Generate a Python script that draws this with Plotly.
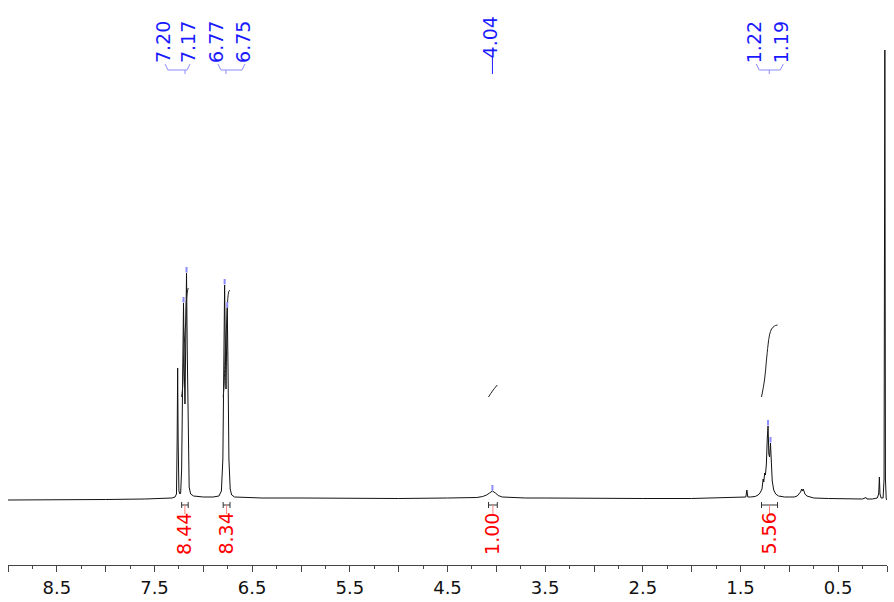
import plotly.graph_objects as go

# ---------------- data ----------------
spec_ppm = [9.00, 8.50, 8.00, 7.60, 7.40, 7.32, 7.29, 7.275, 7.268, 7.263, 7.258, 7.25, 7.24, 7.232,
            7.222, 7.212, 7.203, 7.195, 7.188, 7.180, 7.172, 7.165, 7.155, 7.145, 7.13, 7.10, 7.00,
            6.90, 6.84, 6.815, 6.80, 6.79, 6.782, 6.775, 6.768, 6.762, 6.755, 6.747, 6.738, 6.725,
            6.71, 6.68, 6.50, 6.40, 6.00, 5.50, 5.00, 4.50, 4.20, 4.14, 4.10, 4.07, 4.04, 4.01, 3.98,
            3.94, 3.85, 3.70, 3.50, 3.00, 2.50, 2.00, 1.70, 1.50, 1.445, 1.435, 1.425, 1.40, 1.35,
            1.32, 1.30, 1.28, 1.268, 1.262, 1.252, 1.245, 1.235, 1.226, 1.218, 1.210, 1.202, 1.193,
            1.185, 1.175, 1.16, 1.14, 1.11, 1.05, 1.00, 0.95, 0.92, 0.90, 0.885, 0.874, 0.866, 0.858,
            0.850, 0.84, 0.82, 0.79, 0.75, 0.60, 0.40, 0.25, 0.215, 0.205, 0.15, 0.10, 0.085, 0.078,
            0.072, 0.06, 0.04, 0.03, 0.022, 0.016, 0.008, 0.0]
spec_int = [-1, -1, -0.5, 0, 0.5, 1, 2, 5, 60, 131, 60, 8, 5, 6,
            30, 120, 196, 130, 95, 160, 226, 150, 40, 12, 5, 3, 2,
            2, 3, 8, 40, 150, 214, 150, 110, 150, 191, 130, 40, 10,
            4, 2, 1, 1, 1, 0.5, 0.5, 1, 1.5, 2.5, 4, 6, 8, 6, 3.5,
            2, 1.5, 1, 1, 0.5, 0.5, 0.5, 1, 1.5, 2, 9, 2, 2, 2.5,
            4, 6, 10, 20, 17, 26, 24, 35, 60, 73, 45, 42, 56,
            38, 18, 9, 5, 3, 2, 2, 2, 3, 5, 7, 10, 8, 10,
            8, 5, 3, 2, 1, 0.5, 0, 0, 1.5, 0, 0, 1, 5, 22,
            5, 1, 1, 20, 449, 20, 0, -1]

peak_labels = [7.20, 7.17, 6.77, 6.75, 4.04, 1.22, 1.19]
peak_ppm = [7.203, 7.172, 6.782, 6.755, 4.04, 1.218, 1.193]
peak_height = [196, 226, 214, 191, 8, 73, 56]

integral_values = [8.44, 8.34, 1.00, 5.56]
integral_from = [7.222, 6.797, 4.08, 1.285]
integral_to = [7.155, 6.727, 3.99, 1.121]
integral_curves_ppm = [
    [7.222, 7.212, 7.202, 7.192, 7.182, 7.172, 7.162, 7.155],
    [6.797, 6.787, 6.777, 6.767, 6.757, 6.747, 6.737, 6.727],
    [4.08, 4.04, 3.99],
    [1.285, 1.254, 1.234, 1.218, 1.203, 1.182, 1.152, 1.121],
]
integral_curves_val = [
    [102, 112, 140, 160, 175, 200, 208, 211],
    [102, 115, 145, 165, 185, 203, 208, 209],
    [102, 108, 114],
    [102, 119, 139, 154, 164, 170, 173, 174],
]

tick_vals = [9.0, 8.5, 8.0, 7.5, 7.0, 6.5, 6.0, 5.5, 5.0, 4.5, 4.0, 3.5, 3.0, 2.5, 2.0, 1.5, 1.0, 0.5, 0.0]
tick_text = ["", "8.5", "", "7.5", "", "6.5", "", "5.5", "", "4.5", "", "3.5", "", "2.5", "", "1.5", "", "0.5", ""]

# ---------------- layout helpers ----------------
PX_PER_PPM = 97.6
TOP = 499  # data value at the top edge of the plot area


def py(p):
    """pixel row (from the top of the plot area) -> y data value"""
    return TOP - p


def dx(px):
    """pixel offset -> ppm offset (axis reversed)"""
    return px / PX_PER_PPM


BLUE = "#1a1aff"
BLUE_LIGHT = "#8c8cff"
RED = "#ff0000"
RED_LIGHT = "#ff8080"
FONT = "DejaVu Sans"

fig = go.Figure()
fig.add_trace(go.Scatter(x=spec_ppm, y=spec_int, mode="lines",
                         line=dict(color="#111111", width=1), hoverinfo="skip"))
for xs, ys in zip(integral_curves_ppm, integral_curves_val):
    fig.add_trace(go.Scatter(x=xs, y=ys, mode="lines", line=dict(color="#222222", width=1, shape="spline"),
                             hoverinfo="skip"))

shapes = []
annotations = []

# peak top markers
for p, h in zip(peak_ppm, peak_height):
    shapes.append(dict(type="line", xref="x", yref="y", x0=p, x1=p, y0=h + 0.5, y1=h + 6,
                       line=dict(color=BLUE_LIGHT, width=2)))

# multiplet label groups: (indices of labels, label pixel offsets from group centre)
groups = [([0, 1], [-20, 5]), ([2, 3], [-8, 19]), ([5, 6], [-13, 14])]
for idx, offs in groups:
    centre = sum(peak_ppm[i] for i in idx) / len(idx)
    xs = [centre - dx(o) for o in offs]
    for i, x in zip(idx, xs):
        annotations.append(dict(x=x - dx(-2), y=py(42), xref="x", yref="y", text=f"{peak_labels[i]:.2f}",
                                textangle=-90, showarrow=False, xanchor="center", yanchor="middle",
                                font=dict(family=FONT, size=19, color=BLUE)))
    left, right = xs[0], xs[-1]
    path = (f"M {left},{py(64)} L {left - dx(3)},{py(70)} L {centre},{py(70)} L {centre},{py(74)} "
            f"M {centre},{py(70)} L {right + dx(3)},{py(70)} L {right},{py(64)}")
    shapes.append(dict(type="path", xref="x", yref="y", path=path, line=dict(color=BLUE_LIGHT, width=1)))

# single label 4.04
annotations.append(dict(x=peak_ppm[4] - dx(-2), y=py(37), xref="x", yref="y", text=f"{peak_labels[4]:.2f}",
                        textangle=-90, showarrow=False, xanchor="center", yanchor="middle",
                        font=dict(family=FONT, size=19, color=BLUE)))
shapes.append(dict(type="line", xref="x", yref="y", x0=peak_ppm[4], x1=peak_ppm[4], y0=py(57), y1=py(74),
                   line=dict(color=BLUE, width=1)))

# integral brackets and labels
for v, a, b in zip(integral_values, integral_from, integral_to):
    c = (a + b) / 2
    shapes.append(dict(type="line", xref="x", yref="y", x0=a, x1=b, y0=py(505), y1=py(505),
                       line=dict(color="#333333", width=1)))
    for e in (a, b):
        shapes.append(dict(type="line", xref="x", yref="y", x0=e, x1=e, y0=py(502), y1=py(508),
                           line=dict(color="#333333", width=1)))
    shapes.append(dict(type="line", xref="x", yref="y", x0=c, x1=c, y0=py(505), y1=py(514),
                       line=dict(color=RED_LIGHT, width=1)))
    annotations.append(dict(x=c + dx(1), y=py(534), xref="x", yref="y", text=f"{v:.2f}", textangle=-90,
                            showarrow=False, xanchor="center", yanchor="middle",
                            font=dict(family=FONT, size=19, color=RED)))

fig.update_layout(
    width=894, height=602,
    margin=dict(l=8, r=7, t=0, b=37),
    paper_bgcolor="white", plot_bgcolor="white",
    showlegend=False,
    shapes=shapes, annotations=annotations,
    xaxis=dict(range=[9.0, 0.0], tickmode="array", tickvals=tick_vals, ticktext=tick_text,
               ticks="outside", ticklen=6, tickwidth=1, tickcolor="#444444",
               showline=True, linecolor="#444444", linewidth=1, showgrid=False, zeroline=False,
               tickfont=dict(family=FONT, size=18, color="#111111"),
               minor=dict(tickmode="linear", tick0=0, dtick=0.25, ticks="outside", ticklen=3,
                          tickcolor="#444444", showgrid=False)),
    yaxis=dict(range=[-66, 499], visible=False, showgrid=False, zeroline=False),
)

fig.write_html("out.html", config={"displayModeBar": False},
               post_script="document.body.style.margin='0';document.body.style.overflow='hidden';")
